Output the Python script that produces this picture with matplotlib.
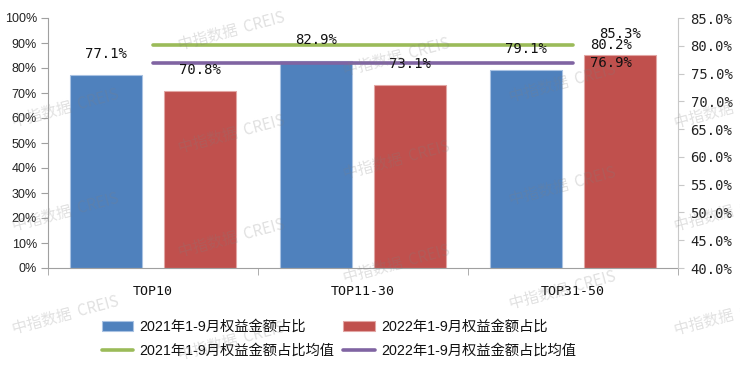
import matplotlib
matplotlib.use("Agg")
import matplotlib.pyplot as plt
from matplotlib.ticker import FuncFormatter, FixedLocator
import numpy as np

categories = ["TOP10", "TOP11-30", "TOP31-50"]
share_2021 = [77.1, 82.9, 79.1]
share_2022 = [70.8, 73.1, 85.3]
mean_2021 = [80.2, 80.2, 80.2]
mean_2022 = [76.9, 76.9, 76.9]
left_ticks = [0, 10, 20, 30, 40, 50, 60, 70, 80, 90, 100]
right_ticks = [40, 45, 50, 55, 60, 65, 70, 75, 80, 85]
labels = ["2021年1-9月权益金额占比", "2022年1-9月权益金额占比",
          "2021年1-9月权益金额占比均值", "2022年1-9月权益金额占比均值"]

C_BLUE, C_RED, C_GREEN, C_PURPLE = "#4F81BD", "#C0504D", "#9BBB59", "#8064A2"
MONO = ["DejaVu Sans Mono", "Noto Sans CJK SC"]
SANS = ["Liberation Sans", "DejaVu Sans"]
LEG = ["Liberation Sans", "Noto Sans CJK SC", "DejaVu Sans"]

fig = plt.figure(figsize=(7.4, 3.67), dpi=100)
ax = fig.add_axes([48/740, 1-268/367, (678-48)/740, (268-18)/367])
ax2 = ax.twinx()

x = np.arange(len(categories))
w = 0.345
off = 0.225
b1 = ax.bar(x - off, share_2021, w, color=C_BLUE, edgecolor="#a9c2e2", linewidth=0.8, zorder=2)
b2 = ax.bar(x + off, share_2022, w, color=C_RED, edgecolor="#e2a6a4", linewidth=0.8, zorder=2)

l1, = ax2.plot(x, mean_2021, color=C_GREEN, lw=2.6, solid_capstyle="round")
l2, = ax2.plot(x, mean_2022, color=C_PURPLE, lw=2.6, solid_capstyle="round")

ax.set_xlim(-0.5, 2.5)
ax.set_ylim(0, 100)
ax2.set_ylim(40, 85)
ax.yaxis.set_major_locator(FixedLocator(left_ticks))
ax2.yaxis.set_major_locator(FixedLocator(right_ticks))
ax.yaxis.set_major_formatter(FuncFormatter(lambda v, p: f"{v:.0f}%"))
ax2.yaxis.set_major_formatter(FuncFormatter(lambda v, p: f"{v:.1f}%"))

ax.set_xticks(x)
ax.set_xticklabels(categories, fontfamily=MONO, fontsize=9.5, color="#111111")
ax.set_xticks([-0.5, 0.5, 1.5, 2.5], minor=True)
ax.tick_params(axis="x", which="major", length=0, pad=12)
ax.tick_params(axis="x", which="minor", length=5, color="#a0a0a0", direction="out")
ax.tick_params(axis="y", length=5, color="#a0a0a0", direction="out", pad=3, labelsize=9, labelcolor="#222222")
for t in ax.get_yticklabels():
    t.set_fontfamily(SANS)
ax2.tick_params(axis="y", length=4, color="#c8c8c8", direction="out", pad=5, labelsize=10, labelcolor="#222222")
for t in ax2.get_yticklabels():
    t.set_fontfamily(MONO)

for a in (ax, ax2):
    a.spines["top"].set_visible(False)
ax.spines["left"].set_color("#a0a0a0")
ax.spines["bottom"].set_color("#a0a0a0")
ax.spines["right"].set_visible(False)
ax2.spines["left"].set_visible(False)
ax2.spines["bottom"].set_visible(False)
ax2.spines["right"].set_color("#c8c8c8")

# bar value labels (drawn on ax2 so they sit above the lines)
for xi, v in zip(x - off, share_2021):
    ax2.annotate(f"{v:.1f}%", xy=(xi, v), xycoords=ax.transData, xytext=(0, 15),
                 textcoords="offset points", ha="center", va="center",
                 fontfamily=MONO, fontsize=10, color="#111111")
for xi, v in zip(x + off, share_2022):
    ax2.annotate(f"{v:.1f}%", xy=(xi, v), xycoords=ax.transData, xytext=(0, 15),
                 textcoords="offset points", ha="center", va="center",
                 fontfamily=MONO, fontsize=10, color="#111111")
for ser in (mean_2021, mean_2022):
    ax2.annotate(f"{ser[-1]:.1f}%", xy=(x[-1], ser[-1]), xytext=(12, 0),
                 textcoords="offset points", ha="left", va="center",
                 fontfamily=MONO, fontsize=10, color="#111111")

leg = fig.legend([b1, l1, b2, l2], [labels[0], labels[2], labels[1], labels[3]],
                 ncol=2, loc="center", bbox_to_anchor=(0.458, 0.077), frameon=False,
                 prop={"family": LEG, "size": 10.3}, handlelength=2.2, handleheight=0.7,
                 handletextpad=0.45, columnspacing=0.6, labelspacing=0.72)
for t in leg.get_texts():
    t.set_color("#111111")

# watermark
for j in range(0, 4):
    for i in range(5):
        px = 66 + 165.5 * i
        py = 5 + 103.5 * j + 26 * i
        if py < 12 or py > 355:
            continue
        fig.text(px / 740, 1 - py / 367, "中指数据  CREIS", fontfamily=["Noto Sans CJK SC"],
                 fontsize=11, rotation=15, rotation_mode="anchor", ha="center", va="center",
                 color="#808080", alpha=0.24, zorder=10)

fig.savefig("out.png", dpi=100)
